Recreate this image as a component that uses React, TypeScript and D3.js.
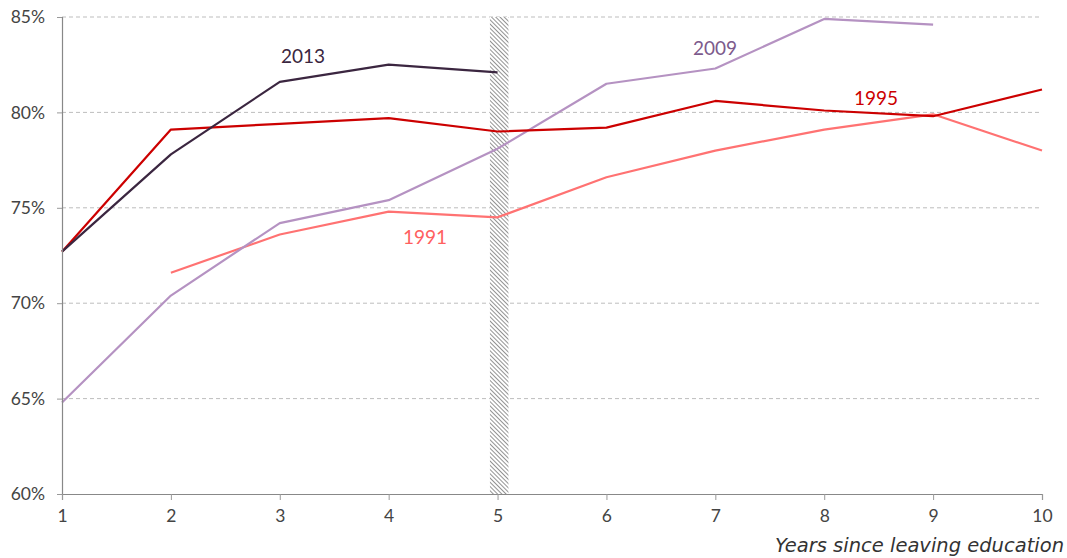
import React, { useEffect, useRef } from "react";
import * as d3 from "d3";

const years = [1, 2, 3, 4, 5, 6, 7, 8, 9, 10];
const yTicks = [60, 65, 70, 75, 80, 85];

const s2013 = [72.7, 77.8, 81.6, 82.5, 82.1];
const s2009 = [64.8, 70.4, 74.2, 75.4, 78.1, 81.5, 82.3, 84.9, 84.6];
const s1995 = [72.7, 79.1, 79.4, 79.7, 79.0, 79.2, 80.6, 80.1, 79.8, 81.2];
const s1991 = [null, 71.6, 73.6, 74.8, 74.5, 76.6, 78.0, 79.1, 79.9, 78.0];

const series = [
  { name: "1991", values: s1991, color: "#ff7272", label: "#ff6060", lx: 425, ly: 244 },
  { name: "2009", values: s2009, color: "#b592c2", label: "#7d5a8c", lx: 715, ly: 55 },
  { name: "1995", values: s1995, color: "#cc0000", label: "#cc0000", lx: 876, ly: 105 },
  { name: "2013", values: s2013, color: "#3b2640", label: "#3b2640", lx: 303, ly: 63 },
];

const App = () => {
  const ref = useRef<SVGSVGElement>(null);

  useEffect(() => {
    const svg = d3.select(ref.current);
    svg.selectAll("*").remove();
    const font = "Lato, 'Open Sans', sans-serif";

    const x = d3.scaleLinear().domain([1, 10]).range([62, 1042]);
    const y = d3.scaleLinear().domain([60, 85]).range([494, 17]);

    const defs = svg.append("defs");
    const pat = defs.append("pattern")
      .attr("id", "hatch")
      .attr("patternUnits", "userSpaceOnUse")
      .attr("width", 3)
      .attr("height", 3)
      .attr("patternTransform", "rotate(45)");
    pat.append("rect").attr("width", 3).attr("height", 3).attr("fill", "#fff");
    pat.append("line")
      .attr("x1", 0).attr("y1", 0.5).attr("x2", 3).attr("y2", 0.5)
      .attr("stroke", "#777").attr("stroke-width", 0.8);

    // gridlines
    svg.append("g")
      .selectAll("line")
      .data(yTicks.filter(d => d > 60))
      .enter()
      .append("line")
      .attr("x1", x(1)).attr("x2", x(10))
      .attr("y1", d => y(d)).attr("y2", d => y(d))
      .attr("stroke", "#bdbdbd")
      .attr("stroke-dasharray", "4,3");

    // hatched band at year 5
    svg.append("rect")
      .attr("x", x(4.93))
      .attr("width", x(5.1) - x(4.93))
      .attr("y", y(85))
      .attr("height", y(60) - y(85))
      .attr("fill", "url(#hatch)");

    const line = d3.line<number | null>()
      .defined(d => d !== null)
      .x((d, i) => x(years[i]))
      .y(d => y(d as number));

    series.forEach(s => {
      svg.append("path")
        .datum(s.values)
        .attr("d", line)
        .attr("fill", "none")
        .attr("stroke", s.color)
        .attr("stroke-width", 2.2)
        .attr("stroke-linejoin", "round");
      svg.append("text")
        .attr("x", s.lx)
        .attr("y", s.ly)
        .attr("text-anchor", "middle")
        .attr("font-family", font)
        .attr("font-size", 19)
        .attr("fill", s.label)
        .text(s.name);
    });

    const yAxis = svg.append("g")
      .attr("transform", `translate(${x(1)},0)`)
      .call(d3.axisLeft(y).tickValues(yTicks).tickFormat(d => `${d}%`).tickSizeOuter(0).tickSize(5).tickPadding(12));
    const xAxis = svg.append("g")
      .attr("transform", `translate(0,${y(60)})`)
      .call(d3.axisBottom(x).tickValues(years).tickFormat(d3.format("d")).tickSizeOuter(0).tickSize(6).tickPadding(10));

    [yAxis, xAxis].forEach(a => {
      a.select(".domain").attr("stroke", "#888").attr("stroke-width", 1.2);
      a.selectAll(".tick line").attr("stroke", "#999");
      a.selectAll("text")
        .attr("font-family", font)
        .attr("font-size", 17.5)
        .attr("fill", "#444");
    });

    svg.append("text")
      .attr("x", 1064)
      .attr("y", 552)
      .attr("text-anchor", "end")
      .attr("font-family", "'DejaVu Sans', sans-serif")
      .attr("font-style", "italic")
      .attr("font-size", 19.5)
      .attr("fill", "#333")
      .text("Years since leaving education");
  }, []);

  return (
    <svg ref={ref} width={1067} height={558}
      style={{ position: "absolute", left: 0, top: 0, background: "#fff" }} />
  );
};

export default App;
